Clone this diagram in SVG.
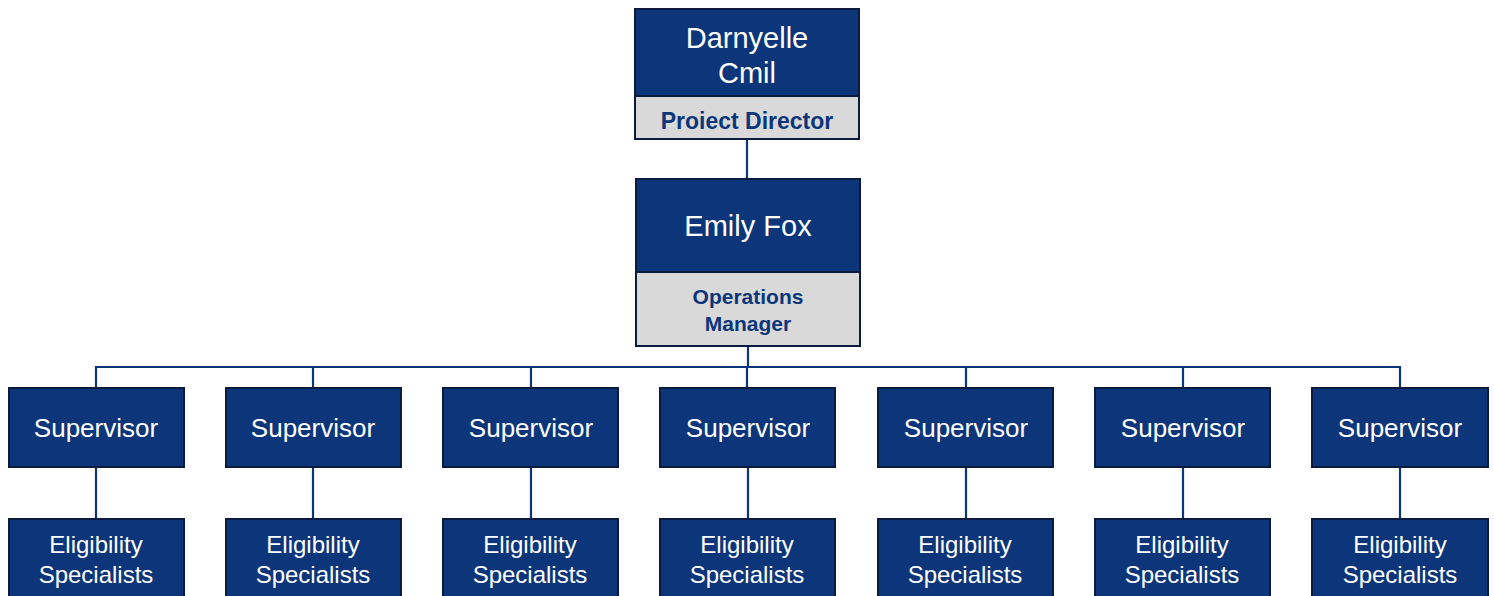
<svg xmlns="http://www.w3.org/2000/svg" width="1494" height="596" viewBox="0 0 1494 596">
<style>
.blue{fill:#0C3679;stroke:#0B1B3D;stroke-width:2}
.gray{fill:#D9D9D9;stroke:#0B1B3D;stroke-width:2}
.w{fill:#FFFFFF;font-family:"Liberation Sans",Arial,sans-serif;text-anchor:middle}
.b{fill:#0C3679;font-family:"Liberation Sans",Arial,sans-serif;font-weight:bold;text-anchor:middle}
.c{stroke:#0C3679;stroke-width:2.2;fill:none}
</style>
<rect width="1494" height="596" fill="#FFFFFF"/>
<g id="connectors">
<path class="c" d="M747 139V179"/>
<path class="c" d="M748 346V367M96 388V367H1400V388M313 367V388M531 367V388M747 367V388M966 367V388M1183 367V388"/>
<path class="c" d="M96 467V518M313 467V518M531 467V518M748 467V518M966 467V518M1183 467V518M1400 467V518"/>
</g>
<g id="director">
<rect class="blue" x="635" y="9" width="224" height="87"/>
<rect class="gray" x="635" y="96" width="224" height="43"/>
<text class="w" x="747" y="48" font-size="29">Darnyelle</text>
<text class="w" x="747" y="83" font-size="29">Cmil</text>
<text class="b" x="747" y="129" font-size="23">Proiect Director</text>
</g>
<g id="manager">
<rect class="blue" x="636" y="179" width="224" height="93"/>
<rect class="gray" x="636" y="272" width="224" height="74"/>
<text class="w" x="748" y="236" font-size="29">Emily Fox</text>
<text class="b" x="748" y="304" font-size="21">Operations</text>
<text class="b" x="748" y="331" font-size="21">Manager</text>
</g>
<g id="sup1"><rect class="blue" x="9" y="388" width="175" height="79"/><text class="w" x="96" y="437" font-size="26">Supervisor</text></g>
<g id="sup2"><rect class="blue" x="226" y="388" width="175" height="79"/><text class="w" x="313" y="437" font-size="26">Supervisor</text></g>
<g id="sup3"><rect class="blue" x="443" y="388" width="175" height="79"/><text class="w" x="531" y="437" font-size="26">Supervisor</text></g>
<g id="sup4"><rect class="blue" x="660" y="388" width="175" height="79"/><text class="w" x="748" y="437" font-size="26">Supervisor</text></g>
<g id="sup5"><rect class="blue" x="878" y="388" width="175" height="79"/><text class="w" x="966" y="437" font-size="26">Supervisor</text></g>
<g id="sup6"><rect class="blue" x="1095" y="388" width="175" height="79"/><text class="w" x="1183" y="437" font-size="26">Supervisor</text></g>
<g id="sup7"><rect class="blue" x="1312" y="388" width="176" height="79"/><text class="w" x="1400" y="437" font-size="26">Supervisor</text></g>
<g id="elig1"><rect class="blue" x="9" y="519" width="175" height="90"/><text class="w" x="96" y="553" font-size="24">Eligibility</text><text class="w" x="96" y="583" font-size="24">Specialists</text></g>
<g id="elig2"><rect class="blue" x="226" y="519" width="175" height="90"/><text class="w" x="313" y="553" font-size="24">Eligibility</text><text class="w" x="313" y="583" font-size="24">Specialists</text></g>
<g id="elig3"><rect class="blue" x="443" y="519" width="175" height="90"/><text class="w" x="530" y="553" font-size="24">Eligibility</text><text class="w" x="530" y="583" font-size="24">Specialists</text></g>
<g id="elig4"><rect class="blue" x="660" y="519" width="175" height="90"/><text class="w" x="747" y="553" font-size="24">Eligibility</text><text class="w" x="747" y="583" font-size="24">Specialists</text></g>
<g id="elig5"><rect class="blue" x="878" y="519" width="175" height="90"/><text class="w" x="965" y="553" font-size="24">Eligibility</text><text class="w" x="965" y="583" font-size="24">Specialists</text></g>
<g id="elig6"><rect class="blue" x="1095" y="519" width="175" height="90"/><text class="w" x="1182" y="553" font-size="24">Eligibility</text><text class="w" x="1182" y="583" font-size="24">Specialists</text></g>
<g id="elig7"><rect class="blue" x="1312" y="519" width="176" height="90"/><text class="w" x="1400" y="553" font-size="24">Eligibility</text><text class="w" x="1400" y="583" font-size="24">Specialists</text></g>
</svg>
